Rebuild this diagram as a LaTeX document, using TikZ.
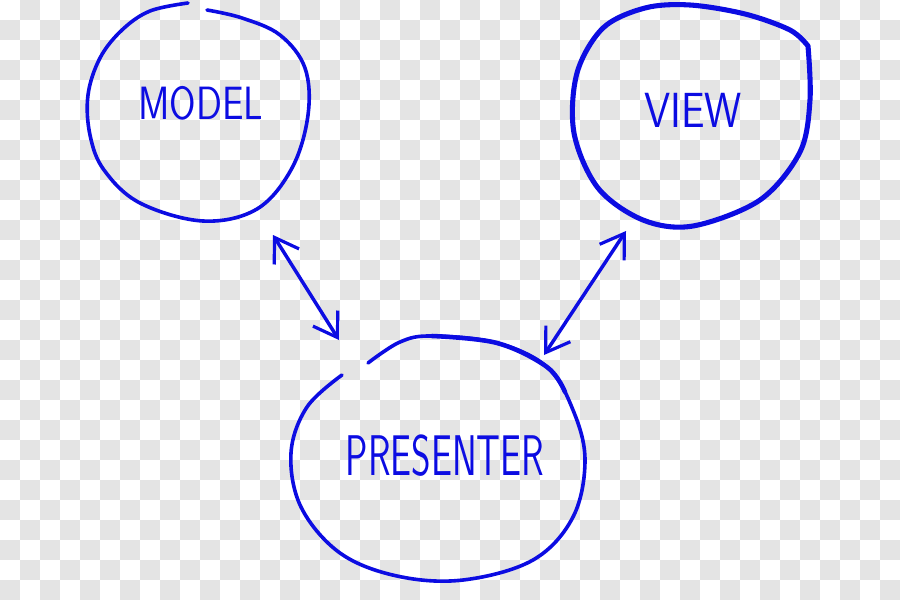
\documentclass[tikz,border=0pt]{standalone}
\usepackage{fontspec}
\usetikzlibrary{arrows.meta}
\definecolor{ink}{RGB}{12,12,226}
\definecolor{chk}{RGB}{228,228,228}
\tikzset{
  ring/.style={draw=ink, line width=2.7pt, line cap=round, line join=round},
  lbl/.style={text=ink, font=\sffamily, inner sep=0pt, anchor=center},
  arr/.style={draw=ink, line width=2.6pt, line cap=round,
    {Straight Barb[length=17pt,width=22pt,line width=2.4pt]}-{Straight Barb[length=17pt,width=22pt,line width=2.4pt]}}
}
\begin{document}
\begin{tikzpicture}[x=0.75pt,y=-0.75pt]
\useasboundingbox (0,0) rectangle (900,600);
\fill[white] (0,0) rectangle (900,600);
\foreach \j in {0,2,...,28}{\foreach \i in {1,3,...,43}{\fill[chk] (20*\i,20*\j) rectangle ++(20,20);}}
\foreach \j in {1,3,...,29}{\foreach \i in {0,2,...,44}{\fill[chk] (20*\i,20*\j) rectangle ++(20,20);}}

% MODEL circle
\draw[ring] plot[smooth, tension=0.6] coordinates {(188,3) (150,11) (122,30) (100,58) (88,95) (90,135) (104,170) (140,203) (203,221) (257,209) (292,168) (308,115) (305,68) (280,35) (242,18) (207,10)};
% VIEW circle
\draw[ring, line width=3.8pt] plot[smooth, tension=0.55] coordinates {(808,46) (810,100) (800,152) (760,200) (693,226) (643,220) (598,188) (574,133) (577,73) (603,28) (645,8) (690,5) (745,14) (790,30) (808,46)};
% PRESENTER circle
\draw[ring] plot[smooth, tension=0.6] coordinates {(368,363) (400,342) (432,336) (497,343) (547,367) (573,410) (585,460) (573,517) (533,560) (463,580) (397,576) (340,553) (301,507) (291,453) (307,407) (342,375)};
\draw[ring, line width=3.4pt] plot[smooth, tension=0.6] coordinates {(432,336) (497,343) (547,367) (565,392)};

\node[lbl, xscale=0.82, font=\sffamily\fontsize{35}{35}\selectfont] (model) at (201,103) {MODEL};
\node[lbl, xscale=0.85, font=\sffamily\fontsize{37}{37}\selectfont] (view) at (693,110) {VIEW};
\node[lbl, xscale=0.65, font=\sffamily\fontsize{43}{43}\selectfont] (presenter) at (445,456) {PRESENTER};

\coordinate (m1) at (273,235);
\coordinate (p1) at (339,340);
\coordinate (v2) at (626,231);
\coordinate (p2) at (544,355);
\draw[arr] (m1) -- (p1);
\draw[arr] (v2) -- (p2);
\end{tikzpicture}
\end{document}
